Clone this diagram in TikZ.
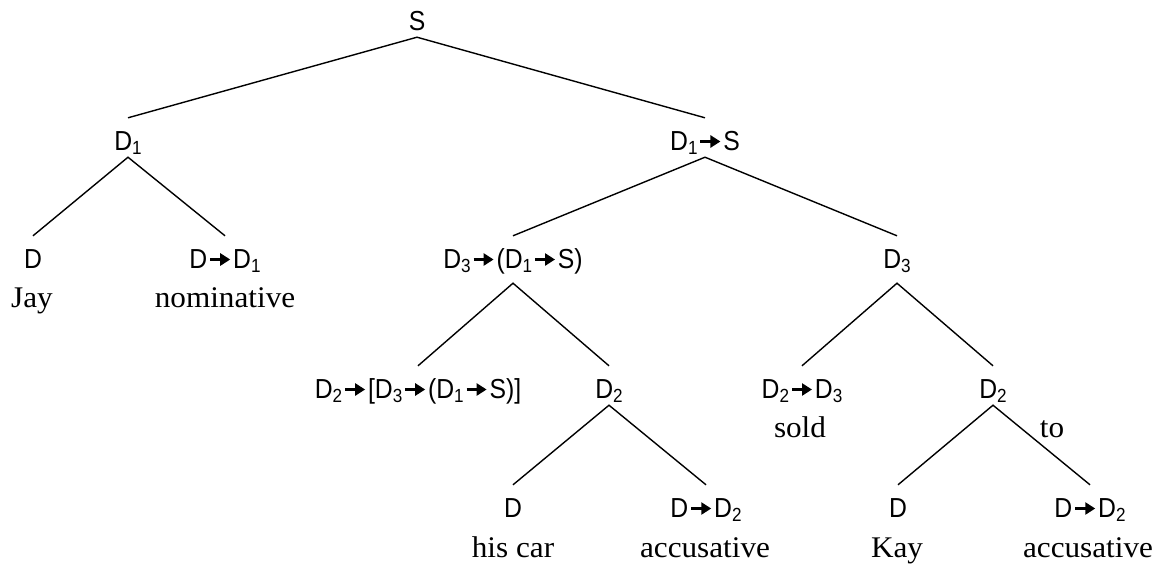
\documentclass[tikz,border=0pt]{standalone}
\usepackage{fontspec}
\usepackage{tikz}
\usetikzlibrary{arrows.meta}
\setmainfont{Liberation Serif}[FakeStretch=1.04]
\newfontfamily\catfont{Liberation Sans}[FakeStretch=0.9]
\newcommand{\sub}[1]{\raisebox{-4pt}{\fontsize{19pt}{20pt}\selectfont #1}}
\newcommand{\arr}{\hspace{1.5pt}\tikz[baseline=0pt]\draw[line width=2.8pt,-{Triangle[length=10pt,width=12pt]}] (0pt,8.5pt) -- (20pt,8.5pt);\hspace{1.5pt}}

\begin{document}
\begin{tikzpicture}[
    x=1pt, y=-1pt,
    cat/.style = {
      anchor=base,
      inner sep=0pt,
      text height=32pt,
      text depth=7pt,
      font=\catfont\fontsize{27.5pt}{32pt}\selectfont
    },
    word/.style = {
      anchor=base,
      inner sep=0pt,
      font=\fontsize{30pt}{35pt}\selectfont
    },
    branch/.style = {line width=1.4pt, draw=black}
  ]
\useasboundingbox (0,0) rectangle (1164,566);

\node[cat] (s) at (417,30) {S};

\node[cat] (d1) at (128,150) {D\sub{1}};
\node[cat] (d1s) at (705,150) {D\sub{1}\arr S};

\node[cat] (dj) at (33,268) {D};
\node[cat] (ddj) at (225,268) {D\arr D\sub{1}};
\node[word] (jay) at (32,307) {Jay};
\node[word] (nom) at (225,307) {nominative};

\node[cat] (d3f) at (513,268) {D\sub{3}\arr(D\sub{1}\arr S)};
\node[cat] (d3) at (897,268) {D\sub{3}};

\node[cat] (d2f) at (418,398) {D\sub{2}\arr[D\sub{3}\arr(D\sub{1}\arr S)]};
\node[cat] (d2a) at (609,398) {D\sub{2}};
\node[cat] (d2d3) at (802,398) {D\sub{2}\arr D\sub{3}};
\node[cat] (d2b) at (993,398) {D\sub{2}};
\node[word] (sold) at (800,437) {sold};
\node[word] (to) at (1052,437) {to};

\node[cat] (dh) at (513,517) {D};
\node[cat] (ddh) at (706,517) {D\arr D\sub{2}};
\node[cat] (dk) at (898,517) {D};
\node[cat] (ddk) at (1090,517) {D\arr D\sub{2}};
\node[word] (car) at (513,557) {his car};
\node[word] (acca) at (705,557) {accusative};
\node[word] (kay) at (897,557) {Kay};
\node[word] (accb) at (1088,557) {accusative};

\draw[branch] (d1.north) -- (s.south) -- (d1s.north);
\draw[branch] (dj.north) -- (d1.south) -- (ddj.north);
\draw[branch] (d3f.north) -- (d1s.south) -- (d3.north);
\draw[branch] (d2f.north) -- ([yshift=-8pt]d3f.south) -- (d2a.north);
\draw[branch] (d2d3.north) -- ([yshift=-8pt]d3.south) -- (d2b.north);
\draw[branch] (dh.north) -- (d2a.south) -- (ddh.north);
\draw[branch] (dk.north) -- (d2b.south) -- (ddk.north);
\end{tikzpicture}
\end{document}
